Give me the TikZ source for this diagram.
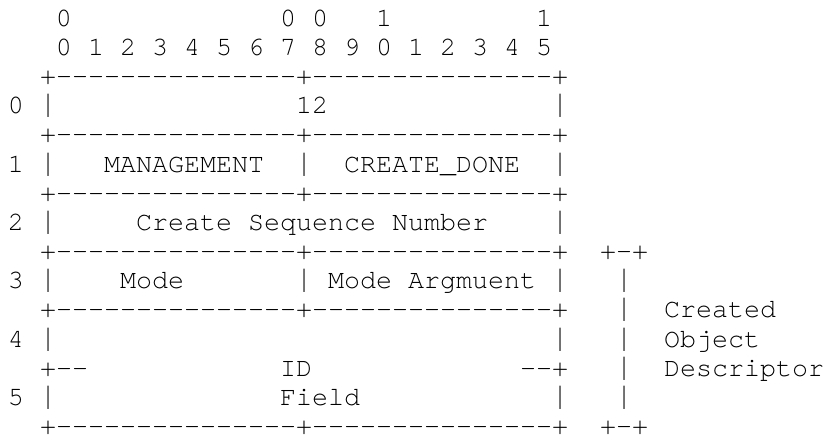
\documentclass[tikz,border=0pt]{standalone}
\usepackage{fontspec}
\usepackage{graphicx}
\setmonofont{TeX Gyre Cursor}
\newcommand\fifteen{-----{}-----{}-----}
\newcommand\border{+\fifteen+\fifteen+}
\newcommand\vbar{\scalebox{1}[1.2]{|}}
\tikzset{t/.style={anchor=base west, inner sep=0pt, outer sep=0pt,
  font=\ttfamily\fontsize{26.67}{30}\selectfont}}
\newcommand\T[4]{\node[t] (#1) at ({8+16*(#2)},{-(26.2+29.18*((#3)-1))}) {#4};}
\begin{document}
\begin{tikzpicture}[x=1pt,y=1pt]
\useasboundingbox (0,0) rectangle (828,-435);
% bit numbers
\T{h1a}{3}{1}{0}
\T{h1b}{17}{1}{0 0}
\T{h1c}{23}{1}{1}
\T{h1d}{33}{1}{1}
\T{h2}{3}{2}{0 1 2 3 4 5 6 7 8 9 0 1 2 3 4 5}
% borders
\T{b3}{2}{3}{\border}
\T{b5}{2}{5}{\border}
\T{b7}{2}{7}{\border}
\T{b9}{2}{9}{\border}
\T{b11}{2}{11}{\border}
\T{b15}{2}{15}{\border}
% row 0
\T{l0}{0}{4}{0}
\T{v0a}{2}{4}{\vbar}
\T{f12}{18}{4}{12}
\T{v0b}{34}{4}{\vbar}
% row 1
\T{l1}{0}{6}{1}
\T{v1a}{2}{6}{\vbar}
\T{fman}{6}{6}{MANAGEMENT}
\T{v1b}{18}{6}{\vbar}
\T{fcd}{21}{6}{CREATE\_DONE}
\T{v1c}{34}{6}{\vbar}
% row 2
\T{l2}{0}{8}{2}
\T{v2a}{2}{8}{\vbar}
\T{fcsn}{8}{8}{Create Sequence Number}
\T{v2b}{34}{8}{\vbar}
% row 3
\T{l3}{0}{10}{3}
\T{v3a}{2}{10}{\vbar}
\T{fmode}{7}{10}{Mode}
\T{v3b}{18}{10}{\vbar}
\T{fma}{20}{10}{Mode Argmuent}
\T{v3c}{34}{10}{\vbar}
% row 4
\T{l4}{0}{12}{4}
\T{v4a}{2}{12}{\vbar}
\T{v4b}{34}{12}{\vbar}
% split line
\T{s13a}{2}{13}{+--}
\T{fid}{17}{13}{ID}
\T{s13b}{32}{13}{--+}
% row 5
\T{l5}{0}{14}{5}
\T{v5a}{2}{14}{\vbar}
\T{ffield}{17}{14}{Field}
\T{v5b}{34}{14}{\vbar}
% bracket
\T{k9}{37}{9}{+-+}
\T{k10}{38}{10}{\vbar}
\T{k11}{38}{11}{\vbar}
\T{k12}{38}{12}{\vbar}
\T{k13}{38}{13}{\vbar}
\T{k14}{38}{14}{\vbar}
\T{k15}{37}{15}{+-+}
\T{c1}{41}{11}{Created}
\T{c2}{41}{12}{Object}
\T{c3}{41}{13}{Descriptor}
\end{tikzpicture}
\end{document}
